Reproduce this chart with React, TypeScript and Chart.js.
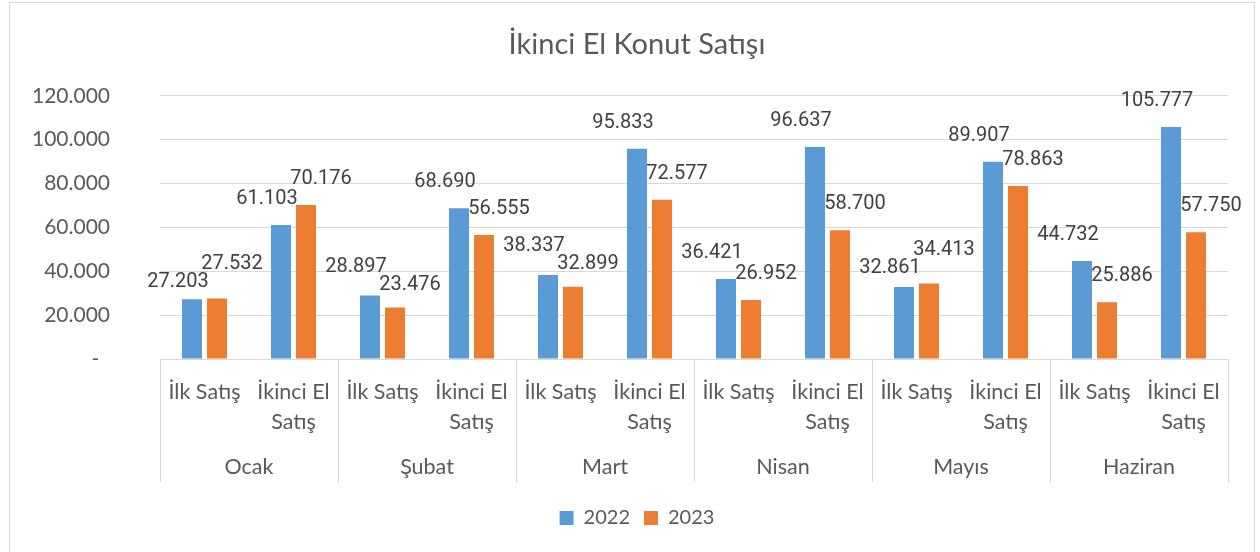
import React, { useEffect, useRef } from "react";
import { Chart, registerables } from "chart.js";

Chart.register(...registerables);

const titleText = "İkinci El Konut Satışı";
const months = ["Ocak", "Şubat", "Mart", "Nisan", "Mayıs", "Haziran"];
const saleTypes = [["İlk Satış"], ["İkinci El", "Satış"]];
const seriesNames = ["2022", "2023"];
const values2022 = [27203, 61103, 28897, 68690, 38337, 95833, 36421, 96637, 32861, 89907, 44732, 105777];
const values2023 = [27532, 70176, 23476, 56555, 32899, 72577, 26952, 58700, 34413, 78863, 25886, 57750];
const yMin = 0;
const yMax = 120000;
const yStep = 20000;

const BLUE = "#5B9BD5";
const ORANGE = "#ED7D31";
const GRID = "#D9D9D9";
const TEXT = "#595959";
const AXIS_FONT = "Lato, 'Open Sans', sans-serif";
const LABEL_FONT = "Roboto, 'Noto Sans', sans-serif";

const fmt = (v: number) => String(Math.round(v)).replace(/\B(?=(\d{3})+(?!\d))/g, ".");

const groupPlugin = {
  id: "monthGroups",
  afterDraw(chart: any) {
    const x = chart.scales.x;
    const ctx = chart.ctx;
    const n = months.length;
    const perGroup = x.ticks.length / n;
    const slot = x.width / x.ticks.length;
    ctx.save();
    ctx.strokeStyle = GRID;
    ctx.lineWidth = 1;
    for (let i = 0; i <= n; i++) {
      const px = Math.round(x.left + i * perGroup * slot) + 0.5;
      ctx.beginPath();
      ctx.moveTo(px, x.top);
      ctx.lineTo(px, x.top + 123);
      ctx.stroke();
    }
    ctx.fillStyle = TEXT;
    ctx.font = `21.5px ${AXIS_FONT}`;
    ctx.textAlign = "center";
    ctx.textBaseline = "middle";
    for (let i = 0; i < n; i++) {
      const cx = x.left + (i + 0.5) * perGroup * slot;
      ctx.fillText(months[i], cx, x.top + 108);
    }
    ctx.restore();
  },
};

const dataLabelPlugin = {
  id: "barValueLabels",
  afterDatasetsDraw(chart: any) {
    const ctx = chart.ctx;
    const dx = [-14, 15];
    const minGap = 18;
    ctx.save();
    ctx.fillStyle = "#404040";
    ctx.font = `20px ${LABEL_FONT}`;
    ctx.textAlign = "center";
    ctx.textBaseline = "middle";
    const metas = chart.data.datasets.map((_: any, d: number) => chart.getDatasetMeta(d));
    const count = chart.data.labels.length;
    for (let i = 0; i < count; i++) {
      const items = metas.map((meta: any, d: number) => {
        const bar = meta.data[i];
        const text = fmt(chart.data.datasets[d].data[i]);
        return { text, x: bar.x + dx[d], y: bar.y - 26, w: ctx.measureText(text).width };
      });
      for (let d = 1; d < items.length; d++) {
        const a = items[d - 1];
        const b = items[d];
        const overlapX = Math.abs(a.x - b.x) < (a.w + b.w) / 2 + 2;
        const overlapY = Math.abs(a.y - b.y) < minGap;
        if (overlapX && overlapY) {
          const mid = (a.y + b.y) / 2;
          const upper = b.y <= a.y ? b : a;
          const lower = upper === b ? a : b;
          upper.y = mid - minGap / 2;
          lower.y = mid + minGap / 2;
        }
      }
      items.forEach((it: any) => ctx.fillText(it.text, it.x, it.y));
    }
    ctx.restore();
  },
};

export default function App() {
  const ref = useRef<HTMLCanvasElement | null>(null);
  useEffect(() => {
    if (!ref.current) return;
    const labels: string[][] = [];
    months.forEach(() => saleTypes.forEach((t) => labels.push(t)));
    const chart = new Chart(ref.current, {
      type: "bar",
      data: {
        labels,
        datasets: [
          { label: seriesNames[0], data: values2022, backgroundColor: BLUE, barPercentage: 0.8, categoryPercentage: 0.562 },
          { label: seriesNames[1], data: values2023, backgroundColor: ORANGE, barPercentage: 0.8, categoryPercentage: 0.562 },
        ],
      },
      options: {
        animation: false,
        responsive: false,
        layout: { padding: { left: 46, right: 32, top: 0, bottom: 14 } },
        plugins: {
          title: {
            display: true,
            text: titleText,
            color: TEXT,
            font: { family: AXIS_FONT, size: 29, weight: "normal", lineHeight: 1.2 },
            padding: { top: 27, bottom: 34 },
          },
          legend: {
            position: "bottom",
            labels: {
              boxWidth: 14,
              boxHeight: 14,
              color: TEXT,
              padding: 14,
              font: { family: AXIS_FONT, size: 20 },
            },
          },
          tooltip: { enabled: false },
        },
        scales: {
          x: {
            grid: { display: false, drawTicks: false },
            border: { display: true, color: GRID, width: 1 },
            ticks: {
              color: TEXT,
              font: { family: AXIS_FONT, size: 21.5, lineHeight: 1.4 },
              padding: 18,
              maxRotation: 0,
              autoSkip: false,
            },
            afterFit: (s: any) => {
              s.height = 135;
            },
          },
          y: {
            min: yMin,
            max: yMax,
            grid: { color: GRID, drawTicks: false },
            border: { display: false },
            ticks: {
              stepSize: yStep,
              color: TEXT,
              padding: 50,
              font: { family: AXIS_FONT, size: 21 },
              callback: (v: any) => (Number(v) === 0 ? "-  " : fmt(Number(v))),
            },
            afterFit: (s: any) => {
              s.width = 114;
              s._computeLabelArea = () => undefined;
            },
          },
        },
      },
      plugins: [groupPlugin, dataLabelPlugin],
    });
    return () => chart.destroy();
  }, []);
  return (
    <div style={{ position: "fixed", left: 0, top: 0, width: 1260, height: 552, background: "#fff" }}>
      <div
        style={{
          position: "absolute",
          left: 9,
          top: 2,
          width: 1246,
          height: 560,
          border: "1px solid #D9D9D9",
          boxSizing: "border-box",
        }}
      />
      <canvas ref={ref} width={1260} height={552} style={{ position: "absolute", left: 0, top: 0 }} />
    </div>
  );
}
